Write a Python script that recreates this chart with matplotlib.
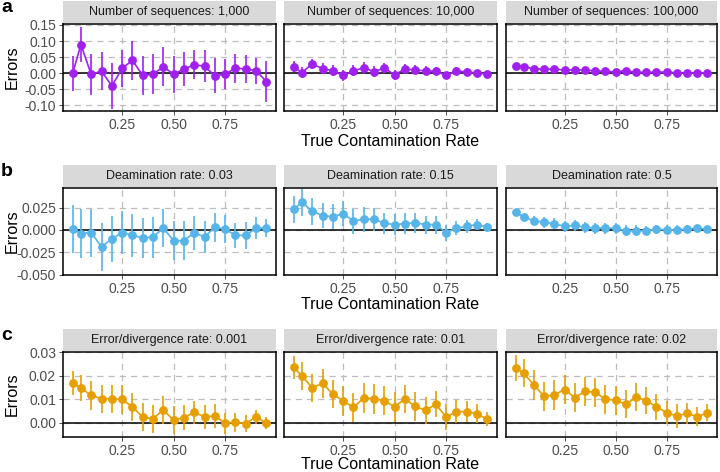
"""
Estimation error vs true contamination rate, three simulation sweeps.
"""

import numpy as np
import matplotlib
matplotlib.use('Agg')
import matplotlib.pyplot as plt
from matplotlib.patches import Rectangle

plt.rcParams['font.family'] = ['Liberation Sans', 'DejaVu Sans']

# ---- data ----
true_rate = [0.01, 0.05, 0.10, 0.15, 0.20, 0.25, 0.30, 0.35, 0.40, 0.45,
             0.50, 0.55, 0.60, 0.65, 0.70, 0.75, 0.80, 0.85, 0.90, 0.95]

# row a: number of sequences
seq_titles = ['Number of sequences: 1,000', 'Number of sequences: 10,000',
              'Number of sequences: 100,000']
seq_1k = [0.000, 0.089, -0.004, 0.007, -0.040, 0.015, 0.040, -0.007, -0.003, 0.020,
          -0.003, 0.013, 0.026, 0.022, -0.008, -0.003, 0.016, 0.013, 0.008, -0.026]
seq_1k_err = [0.055, 0.055, 0.063, 0.060, 0.071, 0.058, 0.060, 0.062, 0.062, 0.061,
              0.058, 0.053, 0.045, 0.050, 0.055, 0.047, 0.045, 0.044, 0.040, 0.064]
seq_10k = [0.020, 0.002, 0.029, 0.014, 0.008, -0.007, 0.007, 0.017, 0.005, 0.016,
           -0.005, 0.013, 0.010, 0.007, 0.006, -0.007, 0.007, 0.004, 0.001, -0.003]
seq_10k_err = [0.017, 0.017, 0.016, 0.017, 0.018, 0.018, 0.017, 0.018, 0.017, 0.016,
               0.016, 0.015, 0.014, 0.014, 0.013, 0.012, 0.012, 0.011, 0.010, 0.009]
seq_100k = [0.023, 0.020, 0.014, 0.013, 0.013, 0.010, 0.010, 0.010, 0.007, 0.006,
            0.004, 0.008, 0.003, 0.003, 0.003, 0.004, 0.001, 0.001, 0.001, 0.001]
seq_100k_err = [0.004, 0.004, 0.004, 0.004, 0.004, 0.004, 0.004, 0.004, 0.004, 0.004,
                0.004, 0.004, 0.004, 0.004, 0.004, 0.004, 0.003, 0.003, 0.003, 0.003]

# row b: deamination rate
deam_titles = ['Deamination rate: 0.03', 'Deamination rate: 0.15', 'Deamination rate: 0.5']
deam_003 = [0.001, -0.004, -0.003, -0.019, -0.010, -0.003, -0.006, -0.009, -0.008, 0.002,
            -0.012, -0.012, -0.003, -0.008, 0.003, 0.001, -0.006, -0.006, 0.002, 0.002]
deam_003_err = [0.027, 0.027, 0.027, 0.027, 0.026, 0.024, 0.024, 0.022, 0.023, 0.021,
                0.022, 0.022, 0.019, 0.018, 0.016, 0.016, 0.014, 0.015, 0.012, 0.010]
deam_015 = [0.023, 0.031, 0.021, 0.016, 0.015, 0.018, 0.010, 0.012, 0.012, 0.0075,
            0.006, 0.007, 0.008, 0.006, 0.006, -0.003, 0.002, 0.004, 0.006, 0.003]
deam_015_err = [0.015, 0.015, 0.015, 0.014, 0.014, 0.014, 0.014, 0.014, 0.013, 0.012,
                0.012, 0.012, 0.011, 0.010, 0.010, 0.009, 0.008, 0.007, 0.006, 0.005]
deam_05 = [0.020, 0.014, 0.0105, 0.0086, 0.007, 0.004, 0.005, 0.003, 0.002, 0.002,
           0.002, -0.001, -0.001, -0.001, 0.001, 0.000, 0.000, 0.001, 0.002, 0.001]
deam_05_err = [0.003, 0.004, 0.005, 0.006, 0.006, 0.006, 0.006, 0.006, 0.006, 0.006,
               0.006, 0.006, 0.006, 0.005, 0.005, 0.005, 0.005, 0.004, 0.004, 0.003]

# row c: error/divergence rate
div_titles = ['Error/divergence rate: 0.001', 'Error/divergence rate: 0.01',
              'Error/divergence rate: 0.02']
div_0001 = [0.0170, 0.0149, 0.0117, 0.0103, 0.0103, 0.0100, 0.0068, 0.0025, 0.0018, 0.0055,
            0.0012, 0.0023, 0.0045, 0.0026, 0.0030, -0.0001, 0.0003, -0.0003, 0.0026, -0.0001]
div_0001_err = [0.0050, 0.0055, 0.0060, 0.0060, 0.0060, 0.0060, 0.0060, 0.0060, 0.0060, 0.0058,
                0.0060, 0.0055, 0.0050, 0.0050, 0.0050, 0.0045, 0.0040, 0.0035, 0.0030, 0.0025]
div_001 = [0.0237, 0.0200, 0.0150, 0.0168, 0.0123, 0.0094, 0.0066, 0.0106, 0.0103, 0.0095,
           0.0068, 0.0103, 0.0070, 0.0054, 0.0079, 0.0025, 0.0048, 0.0048, 0.0039, 0.0015]
div_001_err = [0.0050, 0.0060, 0.0060, 0.0060, 0.0060, 0.0063, 0.0060, 0.0063, 0.0063, 0.0062,
               0.0062, 0.0060, 0.0060, 0.0058, 0.0055, 0.0055, 0.0050, 0.0045, 0.0040, 0.0030]
div_002 = [0.0234, 0.0212, 0.0161, 0.0113, 0.0120, 0.0142, 0.0108, 0.0134, 0.0131, 0.0101,
           0.0097, 0.0079, 0.0109, 0.0095, 0.0069, 0.0044, 0.0029, 0.0041, 0.0026, 0.0044]
div_002_err = [0.0055, 0.0060, 0.0063, 0.0063, 0.0063, 0.0063, 0.0062, 0.0062, 0.0062, 0.0062,
               0.0062, 0.0060, 0.0060, 0.0058, 0.0055, 0.0050, 0.0050, 0.0045, 0.0040, 0.0035]

rows = [
    dict(letter='a', titles=seq_titles, color='#A020F0',
         series=[(seq_1k, seq_1k_err), (seq_10k, seq_10k_err), (seq_100k, seq_100k_err)],
         yticks=[-0.10, -0.05, 0.00, 0.05, 0.10, 0.15], fmt='{:.2f}',
         ylim=(-0.1175, 0.153), top=24, bottom=111, xlab=35),
    dict(letter='b', titles=deam_titles, color='#56B4E9',
         series=[(deam_003, deam_003_err), (deam_015, deam_015_err), (deam_05, deam_05_err)],
         yticks=[-0.050, -0.025, 0.000, 0.025], fmt='{:.3f}',
         ylim=(-0.0505, 0.047), top=188, bottom=275, xlab=34),
    dict(letter='c', titles=div_titles, color='#E69F00',
         series=[(div_0001, div_0001_err), (div_001, div_001_err), (div_002, div_002_err)],
         yticks=[0.00, 0.01, 0.02, 0.03], fmt='{:.2f}',
         ylim=(-0.006, 0.0302), top=352, bottom=437, xlab=32),
]

W, H = 720, 472
cols = [(63, 276), (284, 497), (506, 717)]
GRID = '#BDBDBD'
TXT = '#4D4D4D'

fig = plt.figure(figsize=(W / 100, H / 100), dpi=100)


def fx(px):
    return px / W


def fy(py):
    return 1 - py / H


for row in rows:
    top, bottom = row['top'], row['bottom']
    for j, (x0, x1) in enumerate(cols):
        ax = fig.add_axes([fx(x0), fy(bottom), fx(x1 - x0), (bottom - top) / H])
        y, err = row['series'][j]
        ax.set_xlim(-0.037, 0.997)
        ax.set_ylim(*row['ylim'])
        ax.set_xticks([0.25, 0.50, 0.75])
        ax.set_xticklabels(['0.25', '0.50', '0.75'])
        ax.set_yticks(row['yticks'])
        if j == 0:
            ax.set_yticklabels([row['fmt'].format(v) for v in row['yticks']])
        else:
            ax.tick_params(axis='y', left=False, labelleft=False)
        ax.tick_params(length=3, width=0.6, color='#333333', labelcolor=TXT,
                       labelsize=10, pad=2)
        ax.grid(True, color=GRID, linestyle=(0, (5, 4)), linewidth=0.9)
        ax.set_axisbelow(True)
        for s in ax.spines.values():
            s.set_color('black')
            s.set_linewidth(1.1)
        ax.axhline(0, color='black', linewidth=1.1, zorder=2)
        ax.errorbar(true_rate, y, yerr=err, color=row['color'], linewidth=1.2,
                    elinewidth=1.2, capsize=0, marker='o', markersize=5.3, zorder=3)

        # facet strip
        fig.patches.append(Rectangle((fx(x0), fy(top - 1)), fx(x1 - x0), 22 / H,
                                     transform=fig.transFigure, facecolor='#D9D9D9',
                                     edgecolor='none'))
        fig.text(fx((x0 + x1) / 2), fy(top - 12), row['titles'][j], ha='center',
                 va='center', fontsize=9, color='#1A1A1A')

    fig.text(fx(12), fy((top + bottom) / 2), 'Errors', rotation=90, ha='center',
             va='center', fontsize=11.5)
    fig.text(fx(390), fy(bottom + row['xlab']), 'True Contamination Rate', ha='center',
             va='baseline', fontsize=11.5)
    fig.text(fx(1), fy(top - 12), row['letter'], ha='left', va='baseline',
             fontsize=14, fontweight='bold')

fig.savefig('out.png', dpi=100)
